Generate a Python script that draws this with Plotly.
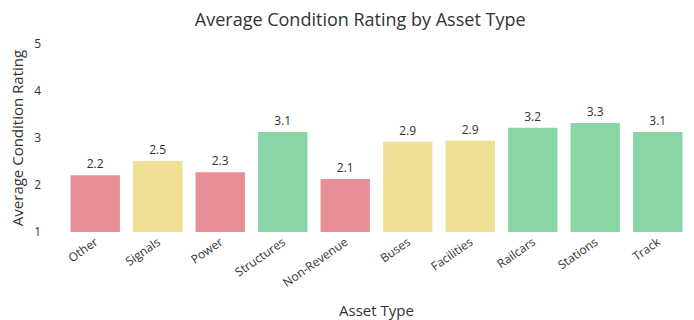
import plotly.graph_objects as go

asset_types = ["Other", "Signals", "Power", "Structures", "Non-Revenue",
               "Buses", "Facilities", "Railcars", "Stations", "Track"]
avg_rating = [2.21, 2.51, 2.27, 3.13, 2.13, 2.92, 2.94, 3.22, 3.32, 3.13]
rating_band = ["low", "mid", "low", "high", "low", "mid", "mid", "high", "high", "high"]

band_colors = {"low": "#E88E96", "mid": "#F0E096", "high": "#88D6A6"}

FONT = "Open Sans, Noto Sans, sans-serif"
TEXT = "#333333"

fig = go.Figure(
    go.Bar(
        x=asset_types,
        y=avg_rating,
        marker=dict(color=[band_colors[b] for b in rating_band], line=dict(width=0)),
        texttemplate="%{y:.1f}",
        textposition="outside",
        cliponaxis=False,
        textfont=dict(size=12, color=TEXT, family=FONT),
    )
)

fig.update_layout(
    width=694,
    height=320,
    margin=dict(l=64, r=5, t=44, b=88),
    paper_bgcolor="white",
    plot_bgcolor="white",
    bargap=0.21,
    showlegend=False,
    font=dict(family=FONT, color=TEXT),
    title=dict(
        text="Average Condition Rating by Asset Type",
        x=0.519, xanchor="center", xref="container",
        y=0.94, yanchor="middle", yref="container",
        font=dict(size=18, color=TEXT, family=FONT),
    ),
    xaxis=dict(
        title=dict(text="Asset Type", font=dict(size=15, color=TEXT), standoff=20),
        tickangle=-35,
        tickfont=dict(size=12, color=TEXT),
        showgrid=False,
        showline=False,
        ticks="",
        automargin=False,
    ),
    yaxis=dict(
        title=dict(text="Average Condition Rating", font=dict(size=15, color=TEXT), standoff=6),
        range=[1, 5],
        tickvals=[1, 2, 3, 4, 5],
        tickfont=dict(size=12, color=TEXT),
        ticklabelstandoff=22,
        showgrid=False,
        zeroline=False,
        showline=False,
        ticks="",
        automargin=False,
    ),
)

fig.write_html("out.html")
